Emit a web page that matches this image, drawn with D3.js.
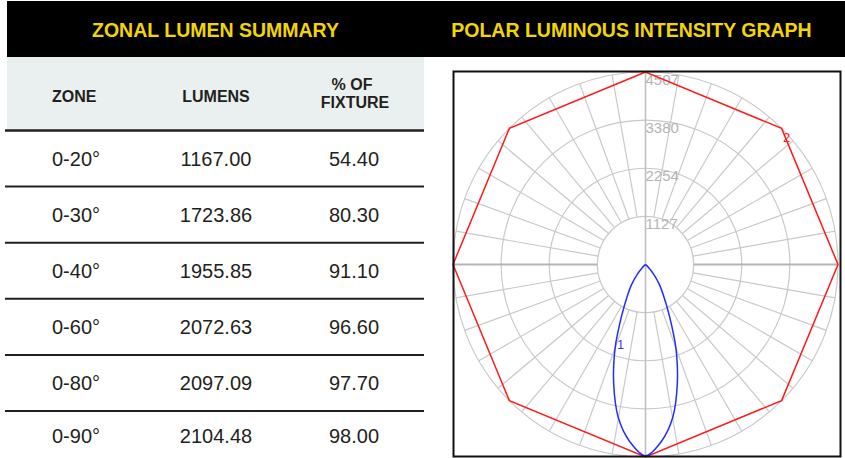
<!DOCTYPE html>
<html>
<head>
<meta charset="utf-8">
<script src="https://cdn.jsdelivr.net/npm/d3@7"></script>
<style>
  html, body { margin: 0; padding: 0; background: #fff; }
  svg { display: block; }
</style>
</head>
<body>
<svg id="chart" width="845" height="458"></svg>
<script>
// table data
var zones = ['0-20°', '0-30°', '0-40°', '0-60°', '0-80°', '0-90°'];
var lumens = [1167.00, 1723.86, 1955.85, 2072.63, 2097.09, 2104.48];
var pctFixture = [54.40, 80.30, 91.10, 96.60, 97.70, 98.00];

// polar graph data (candela vs angle from nadir)
var ringTicks = [1127, 2254, 3380, 4507];
var blueAngles = [0, 5, 10, 15, 20, 25, 30, 35, 40, 45, 50, 55, 60, 70, 80, 90];
var blueCandela = [4480, 4170, 3650, 2880, 2080, 1320, 850, 560, 300, 100, 15, 0, 0, 0, 0, 0];
var redAngles = [0, 45, 90, 135, 180];
var redCandela = [4507, 4507, 4507, 4507, 4507];

var svg = d3.select('#chart');
var yellow = '#f3d600';
var ink = '#231f20';

// ---- black title bar
svg.append('rect')
	.attr('x', 7).attr('y', 1).attr('width', 838).attr('height', 56)
	.attr('fill', '#000');

function title(text, cx){
	svg.append('text')
		.attr('x', cx).attr('y', 37)
		.attr('text-anchor', 'middle')
		.attr('font-family', 'Liberation Sans, Arial, sans-serif')
		.attr('font-weight', 'bold')
		.attr('font-size', 19.5)
		.attr('fill', yellow)
		.text(text);
}
title('ZONAL LUMEN SUMMARY', 215.5);
title('POLAR LUMINOUS INTENSITY GRAPH', 631.5);

// ---- table
var tLeft = 5, tRight = 424;
var headTop = 57, headBottom = 130.5, rowH = 56.1;
var colX = [52, 216, 354];

svg.append('rect')
	.attr('x', 7).attr('y', headTop).attr('width', tRight - 7).attr('height', headBottom - headTop)
	.attr('fill', '#eaf0ef');

var head = svg.append('g')
	.attr('font-family', 'Liberation Sans, Arial, sans-serif')
	.attr('font-weight', 'bold')
	.attr('font-size', 16)
	.attr('fill', ink);
head.append('text').attr('x', colX[0]).attr('y', 102).text('ZONE');
head.append('text').attr('x', colX[1]).attr('y', 102).attr('text-anchor', 'middle').text('LUMENS');
head.append('text').attr('x', colX[2] - 2).attr('y', 89.5).attr('text-anchor', 'middle').text('% OF');
head.append('text').attr('x', colX[2] + 1).attr('y', 107.5).attr('text-anchor', 'middle').text('FIXTURE');

var rowsG = svg.append('g');
var rowData = zones.map(function(z, i){
	return {zone: z, lumens: lumens[i], pct: pctFixture[i], i: i};
});
var f2 = d3.format('.2f');

rowsG.selectAll('line.rule')
	.data(d3.range(zones.length))
	.enter().append('line')
	.attr('class', 'rule')
	.attr('x1', tLeft).attr('x2', tRight)
	.attr('y1', function(i){ return headBottom + i * rowH; })
	.attr('y2', function(i){ return headBottom + i * rowH; })
	.attr('stroke', ink)
	.attr('stroke-width', function(i){ return i === 0 ? 2.5 : 2; });

var cells = rowsG.selectAll('g.row')
	.data(rowData)
	.enter().append('g')
	.attr('class', 'row')
	.attr('font-family', 'Liberation Sans, Arial, sans-serif')
	.attr('font-size', 20)
	.attr('fill', ink)
	.attr('transform', function(d){
		var top = headBottom + d.i * rowH;
		var bottom = Math.min(top + rowH, 460);
		return 'translate(0,' + ((top + bottom) / 2 + 7) + ')';
	});
cells.append('text').attr('x', colX[0]).text(function(d){ return d.zone; });
cells.append('text').attr('x', colX[1]).attr('text-anchor', 'middle').text(function(d){ return f2(d.lumens); });
cells.append('text').attr('x', colX[2]).attr('text-anchor', 'middle').text(function(d){ return f2(d.pct); });

// ---- polar graph
var cx = 645.5, cy = 264.5, R = 192.5;
var r = d3.scaleLinear().domain([0, 4507]).range([0, R]);
var rad = function(deg){ return deg * Math.PI / 180; };

var polar = svg.append('g').attr('transform', 'translate(' + cx + ',' + cy + ')');
var gridColor = '#c9c9c9';

// rings
polar.selectAll('circle.ring')
	.data(ringTicks)
	.enter().append('circle')
	.attr('class', 'ring')
	.attr('r', function(d){ return r(d); })
	.attr('fill', 'none')
	.attr('stroke', gridColor)
	.attr('stroke-width', 1.2);

// spokes every 10 deg, between inner and outer ring
var spokes = d3.range(0, 360, 10).filter(function(a){ return a !== 0 && a !== 180; });
polar.selectAll('line.spoke')
	.data(spokes)
	.enter().append('line')
	.attr('class', 'spoke')
	.attr('x1', function(a){ return r(ringTicks[0]) * Math.sin(rad(a)); })
	.attr('y1', function(a){ return r(ringTicks[0]) * Math.cos(rad(a)); })
	.attr('x2', function(a){ return r(4507) * Math.sin(rad(a)); })
	.attr('y2', function(a){ return r(4507) * Math.cos(rad(a)); })
	.attr('stroke', function(a){ return (a === 90 || a === 270) ? '#b5b5b5' : gridColor; })
	.attr('stroke-width', function(a){ return (a === 90 || a === 270) ? 2 : 1.2; });

// vertical axis through centre
polar.append('line')
	.attr('x1', 0).attr('x2', 0)
	.attr('y1', -r(4507)).attr('y2', r(4507))
	.attr('stroke', '#bdbdbd')
	.attr('stroke-width', 1.5);

// ring labels
polar.selectAll('text.tick')
	.data(ringTicks)
	.enter().append('text')
	.attr('class', 'tick')
	.attr('x', 0)
	.attr('y', function(d){ return -r(d) + 12.5; })
	.attr('font-family', 'Liberation Sans, Arial, sans-serif')
	.attr('font-size', 15)
	.attr('fill', '#b4b4b4')
	.text(function(d){ return d; });

// curves: angle from nadir -> lineRadial angle (clockwise from up)
var radial = d3.lineRadial()
	.angle(function(d){ return Math.PI - rad(d[0]); })
	.radius(function(d){ return r(d[1]); });

function mirror(angles, vals){
	var pts = [];
	for (var i = angles.length - 1; i > 0; i--) pts.push([-angles[i], vals[i]]);
	for (var j = 0; j < angles.length; j++) pts.push([angles[j], vals[j]]);
	return pts;
}

var redPts = mirror(redAngles, redCandela);
polar.append('path')
	.attr('d', radial.curve(d3.curveLinearClosed)(redPts))
	.attr('fill', 'none')
	.attr('stroke', '#ff1a1a')
	.attr('stroke-width', 1.5);

var bluePts = mirror(blueAngles, blueCandela);
polar.append('path')
	.attr('d', radial.curve(d3.curveCatmullRom)(bluePts))
	.attr('fill', 'none')
	.attr('stroke', '#1f2dff')
	.attr('stroke-width', 1.5);

// curve labels
var redLab = [135, 4507], blueLab = [-20, 2080];
polar.append('text')
	.attr('x', r(redLab[1]) * Math.sin(rad(redLab[0])) + 1.5)
	.attr('y', r(redLab[1]) * Math.cos(rad(redLab[0])) + 13.5)
	.attr('font-family', 'Liberation Sans, Arial, sans-serif')
	.attr('font-size', 13)
	.attr('fill', '#ff1a1a')
	.text('2');
polar.append('text')
	.attr('x', r(blueLab[1]) * Math.sin(rad(blueLab[0])) + 2)
	.attr('y', r(blueLab[1]) * Math.cos(rad(blueLab[0])) + 1)
	.attr('font-family', 'Liberation Sans, Arial, sans-serif')
	.attr('font-size', 12)
	.attr('fill', '#1f2dff')
	.text('1');

// frame
svg.append('rect')
	.attr('x', 453.5).attr('y', 71.5).attr('width', 387).attr('height', 385)
	.attr('fill', 'none')
	.attr('stroke', '#111')
	.attr('stroke-width', 2);
</script>
</body>
</html>
